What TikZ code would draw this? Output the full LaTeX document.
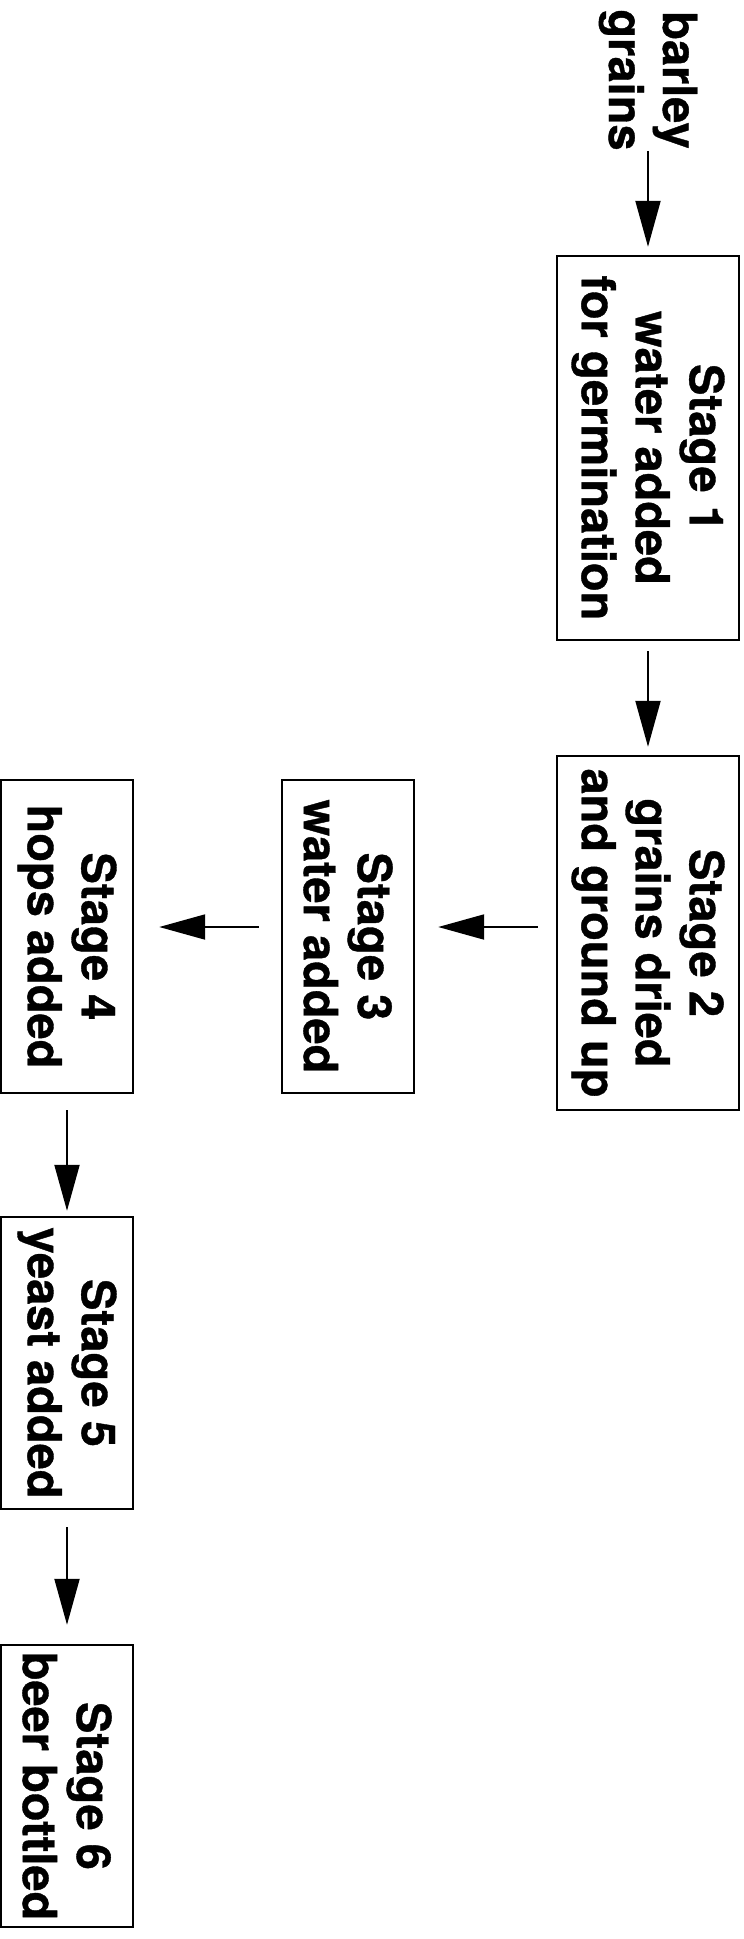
\documentclass[tikz,border=0pt]{standalone}
\usepackage{fontspec}
\setmainfont[BoldFeatures={FakeBold=0.8}]{TeX Gyre Heros}
\usetikzlibrary{arrows.meta}
\begin{document}
\begin{tikzpicture}[x=1pt,y=-1pt,
  txt/.style={rotate=-90,align=center,inner sep=0pt,font=\fontsize{47}{54}\selectfont\bfseries},
  stagebox/.style={txt,draw,line width=2.4pt},
  flow/.style={-{Triangle[length=46pt,width=25pt]},line width=2pt}]
\useasboundingbox (0,0) rectangle (744,1939);
\node[txt] (bg) at (648,80) {barley\\grains};
\node[stagebox,minimum width=384pt,minimum height=182pt] (s1) at (648,448) {Stage 1\\water added\\for germination};
\node[stagebox,minimum width=354pt,minimum height=182pt] (s2) at (648,933) {Stage 2\\grains dried\\and ground up};
\node[stagebox,minimum width=313pt,minimum height=132pt] (s3) at (348,936.5) {Stage 3\\water added};
\node[stagebox,minimum width=313pt,minimum height=132pt] (s4) at (67,936.5) {Stage 4\\hops added};
\node[stagebox,minimum width=292pt,minimum height=132pt] (s5) at (67,1363) {Stage 5\\yeast added};
\node[stagebox,minimum width=282pt,minimum height=132pt] (s6) at (67,1786) {Stage 6\\beer bottled};
\draw[flow,shorten >=8pt] (bg) -- (s1);
\draw[flow,shorten <=10pt,shorten >=8pt] (s1) -- (s2);
\draw[flow,shorten <=18pt,shorten >=23pt] ([yshift=6pt]s2.south) -- ([yshift=9.5pt]s3.north);
\draw[flow,shorten <=22pt,shorten >=25pt] ([yshift=9.5pt]s3.south) -- ([yshift=9.5pt]s4.north);
\draw[flow,shorten <=16pt,shorten >=5pt] (s4) -- (s5);
\draw[flow,shorten <=17pt,shorten >=19pt] (s5) -- (s6);
\end{tikzpicture}
\end{document}
